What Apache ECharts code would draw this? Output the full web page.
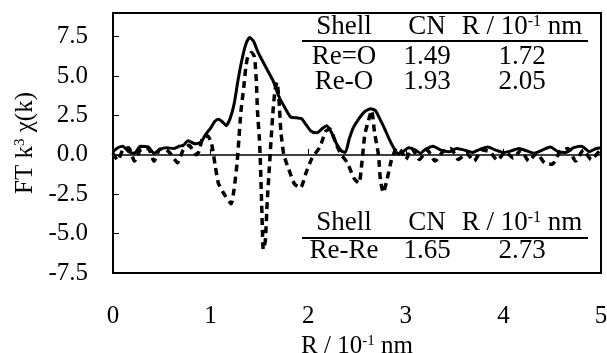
<!DOCTYPE html>
<html>
<head>
<meta charset="utf-8">
<script src="https://cdn.jsdelivr.net/npm/echarts@6/dist/echarts.min.js"></script>
<style>
  html, body { margin: 0; background: #fff; }
  #chart { width: 607px; height: 353px; }
</style>
</head>
<body>
<div id="chart"></div>
<script>
// magnitude of the FT (solid line)
const magR = [0.00, 0.05, 0.10, 0.16, 0.22, 0.28, 0.36, 0.42, 0.48, 0.55, 0.62, 0.68, 0.72, 0.77, 0.84, 0.90,
  0.95, 1.00, 1.04, 1.08, 1.12, 1.16, 1.20, 1.24, 1.28, 1.32, 1.36, 1.40, 1.44, 1.48, 1.52, 1.58, 1.64,
  1.70, 1.76, 1.82, 1.88, 1.93, 1.98, 2.03, 2.09, 2.15, 2.19, 2.24, 2.29, 2.34, 2.38, 2.42, 2.46, 2.52,
  2.58, 2.64, 2.69, 2.74, 2.78, 2.83, 2.88, 2.92, 2.97, 3.03, 3.10, 3.15, 3.20, 3.28, 3.36, 3.45, 3.52,
  3.60, 3.68, 3.76, 3.84, 3.92, 4.00, 4.08, 4.16, 4.24, 4.32, 4.40, 4.48, 4.56, 4.64, 4.72, 4.80, 4.88,
  4.95, 5.00];
const magFT = [0.2, 0.45, 0.55, 0.2, 0.1, 0.55, 0.5, 0.1, 0.35, 0.45, 0.4, 0.55, 0.6, 0.9, 0.7, 0.8,
  1.3, 1.7, 2.1, 2.25, 2.1, 1.85, 2.3, 3.2, 4.7, 6.0, 7.0, 7.45, 7.2, 6.6, 6.1, 5.4, 4.7,
  3.7, 3.0, 2.4, 2.35, 2.3, 1.9, 1.5, 1.4, 1.7, 1.85, 1.4, 0.7, 0.25, 0.15, 1.0, 1.7, 2.3,
  2.75, 2.92, 2.8, 2.2, 1.7, 1.0, 0.4, 0.05, 0.2, 0.45, 0.3, 0.1, 0.35, 0.55, 0.3, 0.2, 0.4,
  0.3, 0.15, 0.35, 0.5, 0.3, 0.15, 0.25, 0.4, 0.25, 0.1, 0.3, 0.5, 0.2, 0.15, 0.45, 0.55, 0.2,
  0.4, 0.45];

// imaginary part of the FT (dashed line)
const imR = [0.00, 0.05, 0.10, 0.16, 0.22, 0.28, 0.36, 0.42, 0.48, 0.55, 0.60, 0.66, 0.72, 0.78, 0.85, 0.88,
  0.92, 0.97, 1.01, 1.05, 1.08, 1.13, 1.21, 1.24, 1.27, 1.29, 1.31, 1.34, 1.36, 1.38, 1.42, 1.45, 1.47,
  1.48, 1.50, 1.51, 1.52, 1.53, 1.54, 1.56, 1.58, 1.60, 1.62, 1.64, 1.66, 1.68, 1.70, 1.72, 1.75, 1.80,
  1.86, 1.92, 1.98, 2.04, 2.12, 2.18, 2.22, 2.28, 2.33, 2.40, 2.47, 2.52, 2.55, 2.58, 2.61, 2.65, 2.68,
  2.72, 2.74, 2.77, 2.81, 2.85, 2.91, 2.96, 3.00, 3.06, 3.14, 3.22, 3.30, 3.38, 3.46, 3.54, 3.62, 3.70,
  3.78, 3.86, 3.94, 4.02, 4.10, 4.18, 4.26, 4.34, 4.42, 4.50, 4.58, 4.66, 4.74, 4.82, 4.90, 5.00];
const imFT = [0.1, -0.35, 0.3, 0.45, -0.4, 0.3, 0.4, -0.4, 0.35, 0.3, 0.0, -0.5, 0.3, 0.6, 0.0, 0.2,
  1.1, 1.2, 0.7, -0.8, -1.8, -2.4, -3.1, -2.2, -0.6, 1.0, 2.7, 4.3, 5.5, 6.2, 6.5, 6.2, 4.5,
  2.8, 1.0, -0.5, -2.5, -4.6, -6.0, -5.5, -3.0, -1.0, 1.0, 2.8, 4.1, 4.6, 3.5, 1.5, 0.0, -0.9,
  -1.85, -2.1, -1.1, -0.2, 0.5, 1.5, 1.65, 0.8, 0.1, -0.5, -1.5, -1.8, -0.5, 1.3, 2.0, 2.8, 1.4,
  0.0, -1.6, -2.4, -1.5, -0.4, 0.45, 0.2, -0.3, 0.4, -0.3, 0.3, -0.4, 0.2, 0.4, -0.3, 0.1, -0.4,
  0.3, 0.2, -0.35, 0.2, -0.2, 0.3, -0.4, 0.1, -0.5, -0.6, 0.2, 0.4, -0.4, 0.3, -0.3, 0.4];

const tableHead = ['Shell', 'CN', 'R / 10{s|-1} nm'];
const topRows = [['Re=O', '1.49', '1.72'], ['Re-O', '1.93', '2.05']];
const bottomRows = [['Re-Re', '1.65', '2.73']];

const FONT = 'Liberation Serif';
const FS = 25;
const TFS = 27;
const colX = [344, 427, 522];

function pairs(xs, ys) {
  return xs.map((x, i) => [x, ys[i]]);
}

function textEl(str, x, y) {
  return {
    type: 'text', x: x, y: y, silent: true,
    style: {
      text: '{a|' + str.replace('{s|-1}', '}{s|-1}{a|') + '}',
      align: 'center', verticalAlign: 'middle',
      rich: {
        a: { fontFamily: FONT, fontSize: TFS, fill: '#000' },
        s: { fontFamily: FONT, fontSize: 16, fill: '#000', verticalAlign: 'top' }
      }
    }
  };
}

function table(headY, lineY, rowYs, rows) {
  const els = tableHead.map((h, i) => textEl(h, colX[i], headY));
  els.push({ type: 'line', silent: true, shape: { x1: 302, y1: lineY, x2: 588, y2: lineY },
    style: { stroke: '#000', lineWidth: 2 } });
  rows.forEach((row, r) => {
    row.forEach((c, i) => els.push(textEl(c, colX[i], rowYs[r])));
  });
  return els;
}

const chart = echarts.init(document.getElementById('chart'));
chart.setOption({
  animation: false,
  grid: { left: 113, right: 6, top: 13, bottom: 80, outerBoundsMode: 'none',
    show: true, borderColor: '#000', borderWidth: 2 },
  xAxis: {
    type: 'value', min: 0, max: 5, interval: 1,
    axisLine: { show: false },
    axisTick: { inside: true, length: 6, lineStyle: { color: '#000', width: 1 } },
    splitLine: { show: false },
    axisLabel: { margin: 31, color: '#000', fontFamily: FONT, fontSize: FS },
    name: '{a|R / 10}{s|-1}{a| nm}', nameLocation: 'middle', nameGap: 51,
    nameTextStyle: {
      rich: {
        a: { fontFamily: FONT, fontSize: FS, color: '#000' },
        s: { fontFamily: FONT, fontSize: 15, color: '#000', verticalAlign: 'top' }
      }
    }
  },
  yAxis: {
    type: 'value', min: -7.5, max: 9, interval: 2.5,
    axisLine: { show: false },
    axisTick: { inside: true, length: 6, lineStyle: { color: '#000', width: 1 } },
    splitLine: { show: false },
    axisLabel: { margin: 25, showMaxLabel: false, color: '#000', fontFamily: FONT, fontSize: FS,
      formatter: v => v.toFixed(1) },
    name: '{a|FT k}{s|3}{a| χ(k)}', nameLocation: 'middle', nameGap: 72, nameRotate: 90,
    nameTextStyle: {
      rich: {
        a: { fontFamily: FONT, fontSize: FS, color: '#000' },
        s: { fontFamily: FONT, fontSize: 15, color: '#000', verticalAlign: 'top' }
      }
    }
  },
  series: [
    {
      type: 'line', data: pairs(magR, magFT), showSymbol: false, smooth: 0.2,
      lineStyle: { color: '#000', width: 3 },
      markLine: {
        silent: true, symbol: 'none', label: { show: false },
        lineStyle: { color: '#000', width: 1.5, type: 'solid' },
        data: [{ yAxis: 0 }]
      }
    },
    {
      type: 'line', data: pairs(imR, imFT), showSymbol: false, smooth: 0.2,
      lineStyle: { color: '#000', width: 3.5, type: [7, 5] }
    }
  ],
  graphic: [
    ...table(27, 41, [57, 82], topRows),
    ...table(223, 238, [251], bottomRows)
  ]
});
</script>
</body>
</html>
